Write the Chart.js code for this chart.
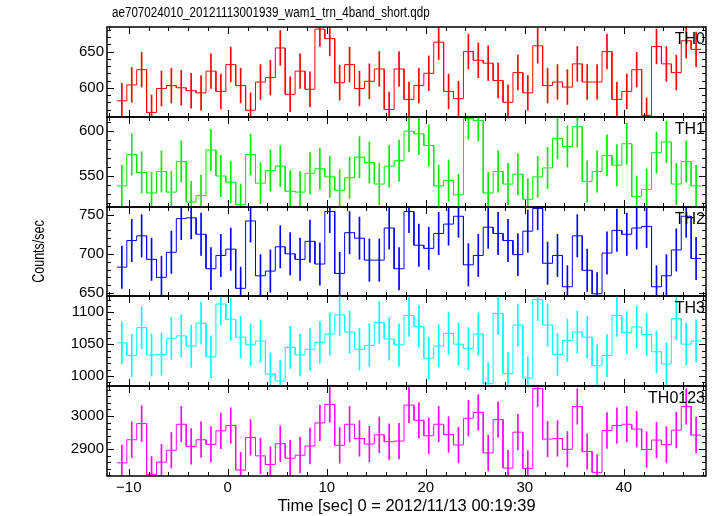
<!DOCTYPE html>
<html lang="en">
<head>
  <meta charset="UTF-8">
  <title>WAM light curve - 4 band</title>
  <script src="https://cdn.jsdelivr.net/npm/chart.js"></script>
  <style>
    html, body { margin: 0; padding: 0; background: #fff; }
    #wrap { position: relative; width: 717px; height: 516px; overflow: hidden; }
    #wrap canvas { position: absolute; left: 0; }
  </style>
</head>
<body>
  <div id="wrap">
    <canvas id="p0" width="717" height="129" style="top:0px"></canvas>
    <canvas id="p1" width="717" height="114" style="top:105px"></canvas>
    <canvas id="p2" width="717" height="113" style="top:195px"></canvas>
    <canvas id="p3" width="717" height="114" style="top:284px"></canvas>
    <canvas id="p4" width="717" height="142" style="top:374px"></canvas>
  </div>

  <script>
    const fileTitle = 'ae707024010_20121113001939_wam1_trn_4band_short.qdp';
    const xTitle = 'Time [sec] 0 = 2012/11/13 00:19:39';
    const yTitle = 'Counts/sec';
    const names = ['TH0', 'TH1', 'TH2', 'TH3', 'TH0123'];

    // bin centres (1 s bins)
    const times = [-10.7,-9.7,-8.7,-7.7,-6.7,-5.7,-4.7,-3.7,-2.7,-1.7,-0.7,0.3,1.3,2.3,3.3,4.3,5.3,6.3,7.3,8.3,
      9.3,10.3,11.3,12.3,13.3,14.3,15.3,16.3,17.3,18.3,19.3,20.3,21.3,22.3,23.3,24.3,25.3,26.3,27.3,28.3,
      29.3,30.3,31.3,32.3,33.3,34.3,35.3,36.3,37.3,38.3,39.3,40.3,41.3,42.3,43.3,44.3,45.3,46.3,47.3];

    const th0 = [582,604,625,566,599,603,600,596,593,623,595,632,603,569,608,614,655,591,623,598,
      681,668,607,632,599,609,626,570,626,584,603,620,663,595,585,650,638,634,610,580,
      621,593,658,603,608,601,633,608,608,650,584,595,625,562,657,633,621,665,653];
    const th1 = [539,574,554,531,555,532,566,521,528,579,550,543,518,574,542,556,561,533,532,553,
      558,549,534,548,571,565,541,561,567,600,597,584,539,545,529,614,612,531,555,541,
      552,524,549,559,592,583,605,544,555,573,562,586,527,535,576,588,541,566,539];
    const th2 = [683,717,723,693,670,702,745,746,725,681,698,706,656,742,672,678,709,700,693,716,
      687,754,675,727,720,692,692,733,681,754,711,707,726,738,748,686,698,734,726,717,
      699,729,758,688,698,658,723,679,649,701,730,725,733,735,658,672,705,748,694];
    const th3 = [1052,1032,1076,1033,1034,1059,1063,1047,1083,1030,1113,1089,1061,1049,1055,1003,992,1045,1033,1042,
      1053,1066,1096,1069,1042,1048,1084,1058,1049,1095,1078,1028,1047,1067,1050,1043,1066,988,1098,1004,
      1080,997,1120,1080,1034,1056,1069,1061,1016,1032,1095,1068,1077,1065,1038,1019,1090,1050,1055];
    const th0123 = [2858,2928,2977,2823,2860,2896,2975,2908,2928,2914,2955,2971,2836,2935,2879,2853,2916,2872,2881,2909,
      2979,3035,2911,2975,2932,2915,2943,2922,2924,3033,2987,2940,2975,2944,2912,2993,3011,2888,2989,2842,
      2951,2841,3083,2930,2932,2899,3029,2892,2829,2956,2971,2975,2960,2898,2927,2913,2957,3029,2942];
    const series = [th0, th1, th2, th3, th0123];

    // 1-sigma error per band (counts/sec)
    const errs = [24, 23, 27, 33, 54];

    // axis ranges and ticks
    const xMin = -12.2, xMax = 48.3;
    const xTicks = [-10, 0, 10, 20, 30, 40];
    const yMins = [559.7, 515.4, 646.2, 984.3, 2818];
    const yMaxs = [683.9, 615.8, 759.8, 1125.6, 3091];
    const yTicks = [[600, 650], [550, 600], [650, 700, 750], [1000, 1050, 1100], [2900, 3000]];
    const majorSteps = [50, 50, 50, 50, 100];
    const minorSteps = [10, 10, 10, 10, 20];
    const colors = ['#ff0000', '#00ee00', '#0000ff', '#00ffff', '#ff00ff'];

    const FONT = '"Liberation Sans", Arial, sans-serif';
    Chart.defaults.font.family = FONT;
    Chart.defaults.color = '#000';

    // frame with inward ticks on all four sides + panel name
    // (file name and y label are set in a condensed face, as qdp does)
    const framePlugin = {
      id: 'frame',
      afterDraw(chart, args, opts) {
        const {ctx, chartArea: a} = chart;
        const xs = chart.scales.x, ys = chart.scales.y;
        ctx.save();
        ctx.strokeStyle = '#000';
        ctx.lineWidth = 1;
        ctx.beginPath();
        for (let t = Math.ceil(xs.min / 2) * 2; t <= xs.max; t += 2) {
          const px = Math.round(xs.getPixelForValue(t)) + 0.5;
          const len = t % 10 === 0 ? 7 : 4;
          ctx.moveTo(px, a.top); ctx.lineTo(px, a.top + len);
          ctx.moveTo(px, a.bottom); ctx.lineTo(px, a.bottom - len);
        }
        for (let v = Math.ceil(ys.min / opts.minor) * opts.minor; v <= ys.max; v += opts.minor) {
          const py = Math.round(ys.getPixelForValue(v)) + 0.5;
          const len = v % opts.major === 0 ? 7 : 4;
          ctx.moveTo(a.left, py); ctx.lineTo(a.left + len, py);
          ctx.moveTo(a.right, py); ctx.lineTo(a.right - len, py);
        }
        ctx.stroke();
        ctx.lineWidth = 1.5;
        ctx.strokeRect(a.left, a.top, a.right - a.left, a.bottom - a.top);
        ctx.fillStyle = '#000';
        ctx.font = '16px ' + FONT;
        ctx.textAlign = 'right';
        ctx.textBaseline = 'alphabetic';
        ctx.fillText(opts.label, a.right - 1, a.top + 16.5);
        if (opts.title) {
          ctx.save();
          ctx.translate(a.left + 5, a.top - 10);
          ctx.scale(0.75, 1);
          ctx.textAlign = 'left';
          ctx.font = '15.5px ' + FONT;
          ctx.fillText(opts.title, 0, 0);
          ctx.restore();
        }
        if (opts.ylabel) {
          ctx.save();
          ctx.translate(40, (a.top + a.bottom) / 2);
          ctx.rotate(-Math.PI / 2);
          ctx.scale(0.78, 1);
          ctx.textAlign = 'center';
          ctx.textBaseline = 'middle';
          ctx.font = '16px ' + FONT;
          ctx.fillText(opts.ylabel, 0, 0);
          ctx.restore();
        }
        ctx.restore();
      }
    };

    function makePanel(i) {
      const isFirst = i === 0, isLast = i === 4;
      const vals = series[i];
      const steps = [];
      times.forEach((t, k) => {
        steps.push({x: t - 0.5, y: vals[k]}, {x: t + 0.5, y: vals[k]});
      });
      const bars = times.map((t, k) => ({x: t, y: [vals[k] - errs[i], vals[k] + errs[i]]}));

      new Chart(document.getElementById('p' + i), {
        type: 'line',
        data: {
          datasets: [
            { type: 'line', data: steps, borderColor: colors[i], borderWidth: 1, pointRadius: 0, tension: 0, fill: false },
            { type: 'bar', data: bars, backgroundColor: colors[i], borderWidth: 0, barThickness: 1, grouped: false }
          ]
        },
        options: {
          responsive: false,
          animation: false,
          devicePixelRatio: 1,
          events: [],
          layout: { padding: { left: 0, right: 11, top: isFirst ? 27 : 12, bottom: isLast ? 0 : 12 } },
          plugins: {
            legend: { display: false },
            tooltip: { enabled: false },
            title: { display: false },
            frame: {
              label: names[i], minor: minorSteps[i], major: majorSteps[i],
              title: isFirst ? fileTitle : '', ylabel: i === 2 ? yTitle : ''
            }
          },
          scales: {
            x: {
              type: 'linear', min: xMin, max: xMax, offset: false, display: isLast,
              grid: { display: false, drawTicks: false, offset: false },
              border: { display: false },
              afterBuildTicks: s => { s.ticks = xTicks.map(v => ({value: v})); },
              ticks: {
                padding: 3, color: '#000', font: { size: 15 },
                callback: v => v < 0 ? '\u2212' + Math.abs(v) : String(v)
              },
              title: { display: isLast, text: xTitle, color: '#000', font: { size: 16.5 }, padding: { top: 0, bottom: 0 } },
              afterFit: s => { if (isLast) s.height = 40; }
            },
            y: {
              type: 'linear', min: yMins[i], max: yMaxs[i],
              grid: { display: false, drawTicks: false },
              border: { display: false },
              afterBuildTicks: s => { s.ticks = yTicks[i].map(v => ({value: v})); },
              ticks: { autoSkip: false, padding: 3, color: '#000', font: { size: 15 }, callback: v => String(v) },
              afterFit: s => { s.width = 107; }
            }
          }
        },
        plugins: [framePlugin]
      });
    }

    for (let i = 0; i < 5; i++) makePanel(i);
  </script>
</body>
</html>
